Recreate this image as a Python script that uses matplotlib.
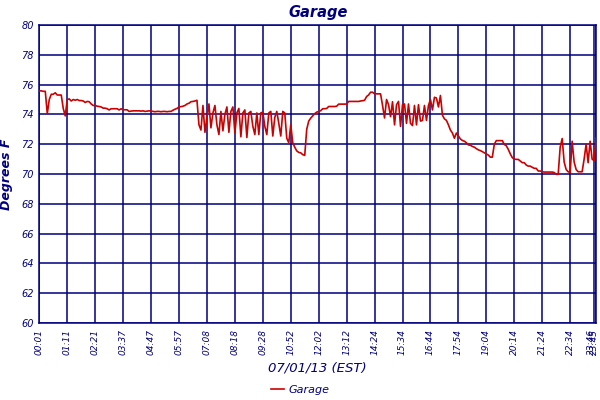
import matplotlib
matplotlib.use('Agg')
import matplotlib.pyplot as plt

NAVY = '#000080'
RED = '#cc0000'

# one reading every ~2 px across the day
temps = [
    75.58, 75.58, 75.55, 75.55, 74.05, 75.0, 75.35, 75.35, 75.45, 75.3,
    75.3, 75.3, 74.4, 73.9, 75.0, 75.04, 74.9, 75.0, 74.95, 75.0,
    74.93, 74.93, 74.9, 74.8, 74.87, 74.85, 74.7, 74.6, 74.6, 74.55,
    74.53, 74.5, 74.42, 74.42, 74.38, 74.3, 74.38, 74.38, 74.38, 74.38,
    74.3, 74.38, 74.31, 74.31, 74.31, 74.2, 74.22, 74.24, 74.24, 74.24,
    74.24, 74.22, 74.24, 74.2, 74.22, 74.24, 74.22, 74.2, 74.18, 74.2,
    74.2, 74.18, 74.2, 74.2, 74.18, 74.2, 74.2, 74.28, 74.35, 74.4,
    74.5, 74.52, 74.55, 74.6, 74.7, 74.75, 74.85, 74.87, 74.9, 74.95,
    73.3, 72.95, 74.6, 72.8, 73.8, 74.7, 73.1, 74.1, 74.6, 73.3,
    72.65, 74.2, 72.9, 74.0, 74.5, 72.8, 74.2, 74.5, 72.75, 74.1,
    74.4, 72.5, 74.1, 74.3, 72.45, 74.1, 74.2, 73.2, 72.65, 74.1,
    72.65, 74.1, 74.15, 73.2, 72.65, 74.1, 74.2, 72.55, 73.8, 74.2,
    73.4, 72.55, 74.2, 74.1, 72.4, 72.1, 73.3, 72.1, 71.8, 71.55,
    71.45, 71.42, 71.3, 71.25, 73.0, 73.55, 73.75, 73.9, 74.05, 74.15,
    74.2, 74.25, 74.38, 74.38, 74.4, 74.53, 74.53, 74.53, 74.53, 74.55,
    74.69, 74.69, 74.69, 74.69, 74.7, 74.87, 74.87, 74.87, 74.87, 74.87,
    74.87, 74.9, 74.92, 74.95, 75.2, 75.3, 75.49, 75.49, 75.38, 75.38,
    75.38, 75.38, 74.6, 73.76, 75.0, 74.65, 73.85, 74.85, 73.3, 74.65,
    74.87, 73.2, 74.65, 74.7, 73.4, 74.7, 73.4, 73.25, 74.6, 73.3,
    74.65, 73.55, 73.6, 74.6, 73.6, 74.6, 75.0, 74.3, 75.15, 75.1,
    74.5, 75.27, 73.95, 73.7, 73.6, 73.3, 72.95, 72.75, 72.4, 72.75,
    72.55, 72.35, 72.25, 72.2, 72.1, 71.95, 71.93, 71.85, 71.8, 71.7,
    71.62, 71.57, 71.5, 71.42, 71.35, 71.27, 71.13, 71.13, 72.0, 72.24,
    72.24, 72.24, 72.24, 71.98, 71.9, 71.65, 71.35, 71.1, 71.0, 70.98,
    70.98, 70.87, 70.76, 70.76, 70.6, 70.53, 70.53, 70.45, 70.38, 70.38,
    70.2, 70.2, 70.15, 70.13, 70.13, 70.13, 70.13, 70.13, 70.1, 69.98,
    69.98, 71.8, 72.38, 70.8, 70.3, 70.15, 70.1, 72.2, 70.8, 70.3,
    70.15, 70.15, 70.15, 71.0, 72.0, 70.76, 72.2, 71.0, 70.9, 72.42,
]

tick_pos = [0, 14, 28, 42, 56, 70, 84, 98, 112, 126, 140, 154, 168, 182,
            196, 210, 224, 238, 252, 266, 278, 279]
tick_labels = ['00:01', '01:11', '02:21', '03:37', '04:47', '05:57', '07:08',
               '08:18', '09:28', '10:52', '12:02', '13:12', '14:24', '15:34',
               '16:44', '17:54', '19:04', '20:14', '21:24', '22:34', '23:45',
               '23:46']

fig = plt.figure(figsize=(6, 4), dpi=100)
ax = fig.add_axes([0.0655, 0.1925, 0.928, 0.745])

ax.plot(range(len(temps)), temps, color=RED, lw=1.2, label='Garage', zorder=3)

ax.set_xlim(0, len(temps) - 1)
ax.set_ylim(60, 80)
ax.set_yticks(range(60, 81, 2))
ax.set_xticks(tick_pos)
ax.set_xticklabels(tick_labels, rotation=90)
ax.grid(True, color=NAVY, lw=1.1)
ax.set_axisbelow(True)
ax.tick_params(length=0, labelcolor=NAVY, pad=4)
ax.tick_params(axis='x', labelsize=6.5)
ax.tick_params(axis='y', labelsize=7)
for lab in ax.get_xticklabels() + ax.get_yticklabels():
    lab.set_style('italic')
# last two labels sit on top of each other, as in the source chart
ax.get_xticklabels()[-1].set_horizontalalignment('right')
for sp in ax.spines.values():
    sp.set_color(NAVY)
    sp.set_linewidth(1.1)

ax.set_title('Garage', color=NAVY, fontsize=10.5, fontweight='bold',
             style='italic', pad=6)
ax.set_ylabel('Degrees F', color=NAVY, fontsize=9, fontweight='bold',
              style='italic', labelpad=6)
ax.set_xlabel('07/01/13 (EST)', color=NAVY, fontsize=9.5, style='italic',
              labelpad=5)

leg = fig.legend(loc='center', bbox_to_anchor=(0.5, 0.026), frameon=False,
                 handlelength=1.2, handletextpad=0.4,
                 prop={'style': 'italic', 'size': 8})
for t in leg.get_texts():
    t.set_color(NAVY)

plt.savefig('out.png', dpi=100)
